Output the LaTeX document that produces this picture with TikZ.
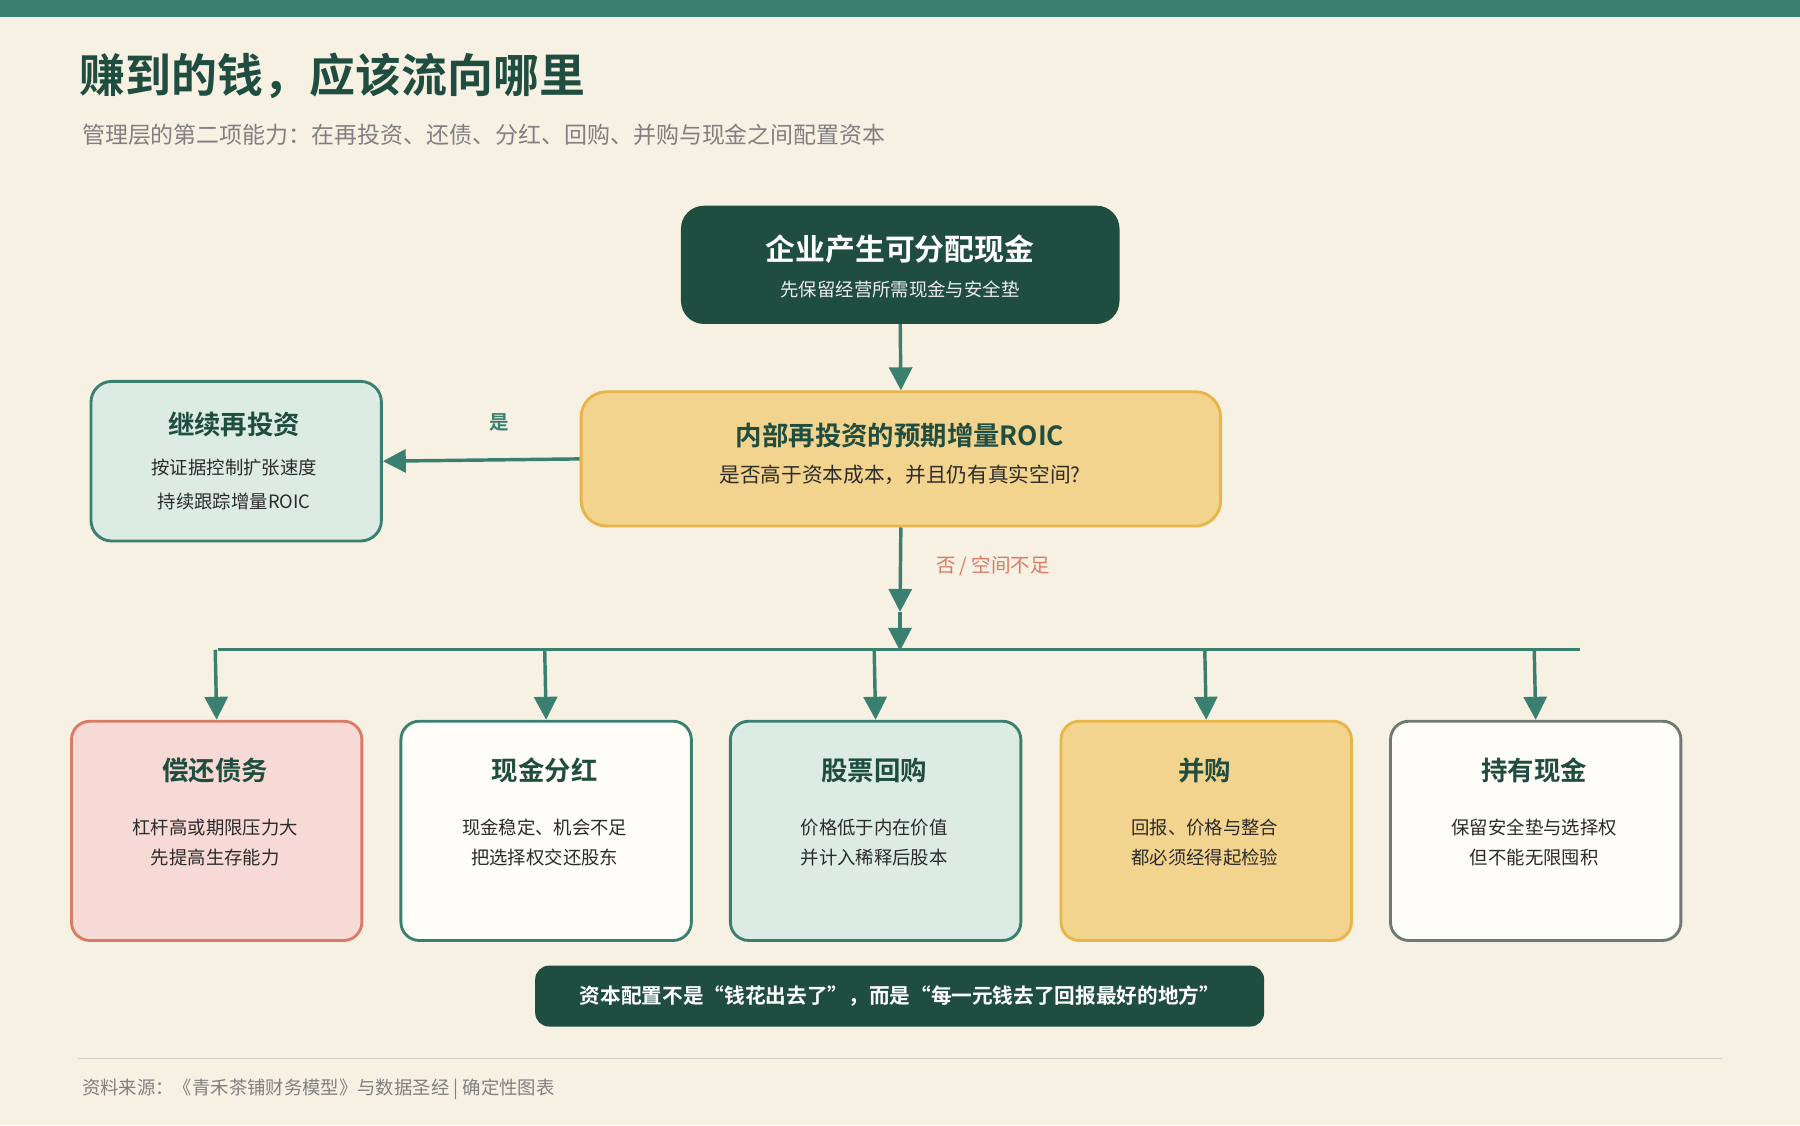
\documentclass[tikz,border=0pt]{standalone}
\usepackage{fontspec}
\setmainfont{Noto Sans CJK SC}
\newfontfamily\cjkb{Noto Sans CJK SC Bold}
\usetikzlibrary{arrows.meta}
\definecolor{bg}{HTML}{F7F1E4}
\definecolor{dk}{HTML}{1F4D40}
\definecolor{gr}{HTML}{3A8070}
\definecolor{yl}{HTML}{F3D48E}
\definecolor{ylb}{HTML}{E8B54A}
\definecolor{mint}{HTML}{DDEBE5}
\definecolor{pk}{HTML}{F7DAD5}
\definecolor{pkb}{HTML}{DB7B66}
\definecolor{wh}{HTML}{FFFDF7}
\definecolor{gy}{HTML}{6E7A74}
\definecolor{tx}{HTML}{2B2B2B}
\newcommand{\fs}[1]{\fontsize{#1}{#1}\selectfont}
\begin{document}
\begin{tikzpicture}[x=1pt,y=-1pt,
  box/.style={rounded corners=16pt,line width=2.5pt,minimum width=253pt,minimum height=191pt,anchor=north west,inner sep=0pt},
  arr/.style={gr,line width=3pt,-{Triangle[length=20pt,width=20pt]}},
  ttl/.style={font=\cjkb\fs{23},text=dk},
  ln/.style={font=\fs{16},text=tx,align=center}]
\fill[bg] (0,0) rectangle (1568,980);
\useasboundingbox (0,0) rectangle (1568,980);
\fill[gr] (0,0) rectangle (1568,15);
\node[anchor=west,font=\cjkb\fs{40},text=dk] (title) at (66,66) {赚到的钱，应该流向哪里};
\node[anchor=west,font=\fs{20},text=gray] (sub) at (68,117) {管理层的第二项能力：在再投资、还债、分红、回购、并购与现金之间配置资本};
% top
\node[fill=dk,rounded corners=20pt,minimum width=382pt,minimum height=103pt,anchor=north west] (top) at (593,179) {};
\node[font=\cjkb\fs{26},text=white] (topt) at (784,217) {企业产生可分配现金};
\node[font=\fs{16},text=white!85!gray] (tops) at (784,252) {先保留经营所需现金与安全垫};
% decision
\node[fill=yl,draw=ylb,line width=2.5pt,rounded corners=22pt,minimum width=557pt,minimum height=117pt,anchor=north west] (dec) at (505,340) {};
\node[font=\cjkb\fs{23},text=dk] (dect) at (784,379) {内部再投资的预期增量ROIC};
\node[font=\fs{18},text=tx] (decs) at (784,414) {是否高于资本成本，并且仍有真实空间?};
% left
\node[fill=mint,draw=gr,line width=2.5pt,rounded corners=18pt,minimum width=253pt,minimum height=139pt,anchor=north west] (left) at (78,331) {};
\node[ttl] (leftt) at (204,370) {继续再投资};
\node[ln] (left1) at (204,407) {按证据控制扩张速度};
\node[ln] (left2) at (204,437) {持续跟踪增量ROIC};
\draw[arr] (dec.west) -- (left.east);
\node[font=\cjkb\fs{17},text=gr] (yes) at (435,368) {是};
\coordinate (m1) at (784,533);
\coordinate (m2) at (784,567);
\draw[arr] (top.south) -- (dec.north);
\draw[arr] (dec.south) -- (m1);
\draw[arr] (m1) -- (m2);
\node[font=\fs{17},text=pkb] (no) at (865,493) {否 / 空间不足};
\coordinate (hl) at (190,566);
\coordinate (hr) at (1376,566);
\draw[gr,line width=3pt] (hl) -- (hr);
\foreach \x/\f/\d/\t/\a/\b [count=\i] in {61/pk/pkb/偿还债务/杠杆高或期限压力大/先提高生存能力,
  348/wh/gr/现金分红/现金稳定、机会不足/把选择权交还股东,
  635/mint/gr/股票回购/价格低于内在价值/并计入稀释后股本,
  923/yl/ylb/并购/回报、价格与整合/都必须经得起检验,
  1210/wh/gy/持有现金/保留安全垫与选择权/但不能无限囤积}{
  \node[box,fill=\f,draw=\d] (b\i) at (\x,627) {};
  \coordinate (s\i) at (\x+126.5,566);
  \draw[arr] (s\i) -- (b\i.north);
  \node[ttl] (t\i) at (\x+126.5,671) {\t};
  \node[ln] (a\i) at (\x+126.5,721) {\a};
  \node[ln] (c\i) at (\x+126.5,747) {\b};
}
\node[fill=dk,rounded corners=12pt,minimum width=635pt,minimum height=53pt,anchor=north west] (ban) at (466,841) {};
\node[font=\cjkb\fs{18},text=white] (bant) at (784,868) {资本配置不是“钱花出去了”，而是“每一元钱去了回报最好的地方”};
\draw[gray!40,line width=1pt] (68,922) -- (1500,922);
\node[anchor=west,font=\fs{16},text=gray] (foot) at (68,949) {资料来源：《青禾茶铺财务模型》与数据圣经 | 确定性图表};
\end{tikzpicture}
\end{document}
